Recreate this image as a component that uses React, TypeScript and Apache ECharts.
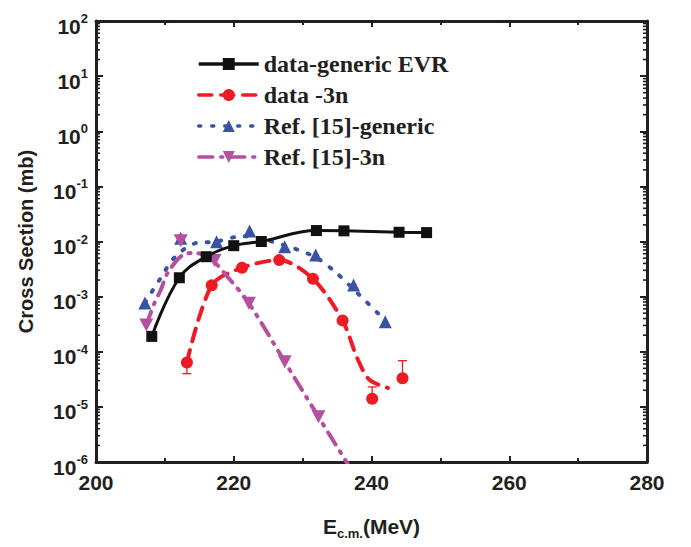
import React, { useEffect, useRef } from "react";
import * as echarts from "echarts";

// ---- data ----
const energyEVR = [208.1, 212.1, 216.0, 220.0, 224.0, 232.0, 236.0, 244.0, 248.0];
const sigmaEVR = [1.9e-4, 2.2e-3, 5.3e-3, 8.4e-3, 1.0e-2, 1.58e-2, 1.56e-2, 1.47e-2, 1.45e-2];

const energy3n = [213.2, 216.8, 221.2, 226.6, 231.5, 235.8, 240.1, 244.5];
const sigma3n = [6.4e-5, 1.6e-3, 3.35e-3, 4.6e-3, 2.1e-3, 3.7e-4, 1.4e-5, 3.3e-5];
const err3nLow = [4.0e-5, 1.4e-5, 3.3e-5];
const err3nHigh = [6.4e-5, 2.3e-5, 6.9e-5];
const err3nE = [213.2, 240.1, 244.5];
const fit3nE = [213.2, 216.8, 221.2, 226.6, 231.5, 235.8, 238.0, 239.7, 242.4];
const fit3nS = [6.4e-5, 1.6e-3, 3.35e-3, 4.6e-3, 2.1e-3, 3.7e-4, 7.3e-5, 3.1e-5, 2.2e-5];

const energyRefGen = [207.1, 212.3, 217.5, 222.3, 227.4, 231.9, 237.4, 242.0];
const sigmaRefGen = [7.7e-4, 1.14e-2, 9.9e-3, 1.55e-2, 8.0e-3, 5.7e-3, 1.63e-3, 3.5e-4];
const fitRefGenE = [207.1, 209.2, 211.5, 214.7, 217.3, 221.2, 224.8, 231.5, 234.7, 237.9, 241.2, 242.0];
const fitRefGenS = [7.7e-4, 2.0e-3, 5.3e-3, 9.5e-3, 9.9e-3, 1.25e-2, 1.06e-2, 5.5e-3, 2.83e-3, 1.18e-3, 4.6e-4, 3.5e-4];

const energyRef3n = [207.3, 212.3, 217.2, 222.2, 227.4, 232.3, 236.6];
const sigmaRef3n = [3.05e-4, 1.03e-2, 4.5e-3, 7.6e-4, 6.6e-5, 6.6e-6, 9e-7];
const fitRef3nE = [207.3, 208.5, 209.4, 210.4, 212.6, 214.5, 216.6, 219.5, 222.2, 227.4, 232.3, 236.6];
const fitRef3nS = [3.05e-4, 7.7e-4, 1.32e-3, 2.7e-3, 5.7e-3, 6.2e-3, 4.95e-3, 2.0e-3, 7.6e-4, 6.6e-5, 6.6e-6, 9e-7];

const seriesNames = ["data-generic EVR", "data -3n", "Ref. [15]-generic", "Ref. [15]-3n"];
const xMin = 200;
const xMax = 280;
const xInterval = 20;
const yMin = 1e-6;
const yMax = 100;
const minorDecades = [-6, -5, -4, -3, -2, -1, 0, 1];
const minorMultipliers = [2, 3, 4, 5, 6, 7, 8, 9];

const INK = "#231f20";
const RED = "#ed1c24";
const BLUE = "#3953a4";
const MAGENTA = "#b5509e";
const INV_TRI = "path://M0,0 L10,0 L5,9 Z";

const zip = (a: number[], b: number[]) => a.map((v, i) => [v, b[i]]);

export default function App() {
  const ref = useRef<HTMLDivElement>(null);
  useEffect(() => {
    if (!ref.current) return;
    const chart = echarts.init(ref.current, null, { renderer: "svg" });
    const minorVals: number[][] = [];
    minorDecades.forEach((d) =>
      minorMultipliers.forEach((m) => minorVals.push([xMin, m * Math.pow(10, d)]))
    );
    const axisFont = { fontFamily: "Liberation Sans", fontWeight: "bold" as const, color: INK };
    const option: any = {
      animation: false,
      grid: { left: 88, right: 36, top: 13, bottom: 85, containLabel: false, outerBoundsMode: "none" },
      legend: {
        data: seriesNames,
        orient: "vertical",
        left: 189,
        top: 44,
        padding: 0,
        itemWidth: 60,
        itemHeight: 15,
        itemGap: 7,
        selectedMode: false,
        lineStyle: { width: 3.5 },
        textStyle: {
          fontFamily: "Liberation Serif",
          fontWeight: "bold",
          fontSize: 24,
          color: INK,
        },
      },
      xAxis: [
        {
          type: "value",
          min: xMin,
          max: xMax,
          interval: xInterval,
          name: "{e|E}{s|c.m.}{e|(MeV)}",
          nameLocation: "middle",
          nameGap: 50,
          nameTextStyle: {
            rich: {
              e: { ...axisFont, fontSize: 21, lineHeight: 28 },
              s: { ...axisFont, fontSize: 13, lineHeight: 14, verticalAlign: "bottom" },
            },
          },
          axisLine: { lineStyle: { color: INK, width: 3 } },
          axisTick: { inside: true, length: 6, lineStyle: { color: INK, width: 2 } },
          minorTick: { show: true, splitNumber: 2, length: 4, lineStyle: { color: INK, width: 2 } },
          splitLine: { show: false },
          axisLabel: { ...axisFont, fontSize: 21, margin: 10 },
        },
        {
          type: "value",
          position: "top",
          min: xMin,
          max: xMax,
          interval: xInterval,
          axisLine: { lineStyle: { color: INK, width: 3 } },
          axisTick: { inside: true, length: 6, lineStyle: { color: INK, width: 2 } },
          minorTick: { show: true, splitNumber: 2, length: 4, lineStyle: { color: INK, width: 2 } },
          splitLine: { show: false },
          axisLabel: { show: false },
        },
      ],
      yAxis: [
        {
          type: "log",
          logBase: 10,
          min: yMin,
          max: yMax,
          name: "Cross Section (mb)",
          nameLocation: "middle",
          nameGap: 60,
          nameTextStyle: { ...axisFont, fontSize: 20 },
          axisLine: { lineStyle: { color: INK, width: 3 } },
          axisTick: { inside: true, length: 7, lineStyle: { color: INK, width: 2 } },
          splitLine: { show: false },
          axisLabel: {
            margin: 8,
            formatter: (v: number) => `{b|10}{s|${Math.round(Math.log10(v))}}`,
            rich: {
              b: { ...axisFont, fontSize: 21, lineHeight: 22, padding: [10, 0, 0, 0] },
              s: { ...axisFont, fontSize: 13, lineHeight: 14, verticalAlign: "top", padding: [2, 0, 0, 0] },
            },
          },
        },
        {
          type: "log",
          logBase: 10,
          position: "right",
          min: yMin,
          max: yMax,
          axisLine: { lineStyle: { color: INK, width: 3 } },
          axisTick: { inside: true, length: 7, lineStyle: { color: INK, width: 2 } },
          splitLine: { show: false },
          axisLabel: { show: false },
        },
      ],
      series: [
        {
          name: seriesNames[0],
          type: "line",
          data: zip(energyEVR, sigmaEVR),
          smooth: 0.4,
          symbol: "rect",
          symbolSize: 11,
          color: "#111",
          lineStyle: { color: "#111", width: 3 },
          itemStyle: { color: "#111", opacity: 1 },
          z: 5,
        },
        {
          name: seriesNames[1],
          type: "line",
          data: zip(fit3nE, fit3nS),
          smooth: 0.3,
          showSymbol: false,
          symbol: "circle",
          color: RED,
          lineStyle: { color: RED, width: 4, type: [13, 9], cap: "round" },
          itemStyle: { color: RED, opacity: 1 },
          z: 3,
        },
        {
          name: seriesNames[2],
          type: "line",
          data: zip(fitRefGenE, fitRefGenS),
          smooth: 0.3,
          showSymbol: false,
          symbol: "triangle",
          color: BLUE,
          lineStyle: { color: BLUE, width: 4, type: [2, 11], cap: "round" },
          itemStyle: { color: BLUE, opacity: 1 },
          z: 3,
        },
        {
          name: seriesNames[3],
          type: "line",
          data: zip(fitRef3nE, fitRef3nS),
          smooth: 0.3,
          showSymbol: false,
          symbol: INV_TRI,
          color: MAGENTA,
          lineStyle: { color: MAGENTA, width: 4, type: [14, 8, 2, 8], cap: "round" },
          itemStyle: { color: MAGENTA, opacity: 1 },
          z: 3,
        },
        {
          name: seriesNames[1],
          type: "scatter",
          data: zip(energy3n, sigma3n),
          symbol: "circle",
          symbolSize: 12,
          itemStyle: { color: RED, opacity: 1 },
          z: 4,
        },
        {
          name: seriesNames[2],
          type: "scatter",
          data: zip(energyRefGen, sigmaRefGen),
          symbol: "triangle",
          symbolSize: 13,
          itemStyle: { color: BLUE, opacity: 1 },
          z: 4,
        },
        {
          name: seriesNames[3],
          type: "scatter",
          data: zip(energyRef3n, sigmaRef3n),
          symbol: INV_TRI,
          symbolSize: [14, 13],
          itemStyle: { color: MAGENTA, opacity: 1 },
          z: 4,
        },
        {
          type: "custom",
          name: "err",
          data: err3nE.map((e, i) => [e, err3nLow[i], err3nHigh[i]]),
          z: 2,
          renderItem: (params: any, api: any) => {
            const lo = api.coord([api.value(0), api.value(1)]);
            const hi = api.coord([api.value(0), api.value(2)]);
            const st = { stroke: RED, lineWidth: 1.3 };
            return {
              type: "group",
              children: [
                { type: "line", shape: { x1: lo[0], y1: lo[1], x2: hi[0], y2: hi[1] }, style: st },
                { type: "line", shape: { x1: lo[0] - 4.5, y1: lo[1], x2: lo[0] + 4.5, y2: lo[1] }, style: st },
                { type: "line", shape: { x1: hi[0] - 4.5, y1: hi[1], x2: hi[0] + 4.5, y2: hi[1] }, style: st },
              ],
            };
          },
        },
        {
          type: "custom",
          name: "minor",
          data: minorVals,
          z: 6,
          silent: true,
          renderItem: (params: any, api: any) => {
            const l = api.coord([xMin, api.value(1)]);
            const r = api.coord([xMax, api.value(1)]);
            const st = { stroke: INK, lineWidth: 1.6 };
            return {
              type: "group",
              children: [
                { type: "line", shape: { x1: l[0], y1: l[1], x2: l[0] + 4, y2: l[1] }, style: st },
                { type: "line", shape: { x1: r[0] - 4, y1: r[1], x2: r[0], y2: r[1] }, style: st },
              ],
            };
          },
        },
      ],
    };
    chart.setOption(option);
    return () => chart.dispose();
  }, []);
  return (
    <div
      ref={ref}
      style={{ position: "absolute", left: 8, top: 8, width: 675, height: 539 }}
    />
  );
}
